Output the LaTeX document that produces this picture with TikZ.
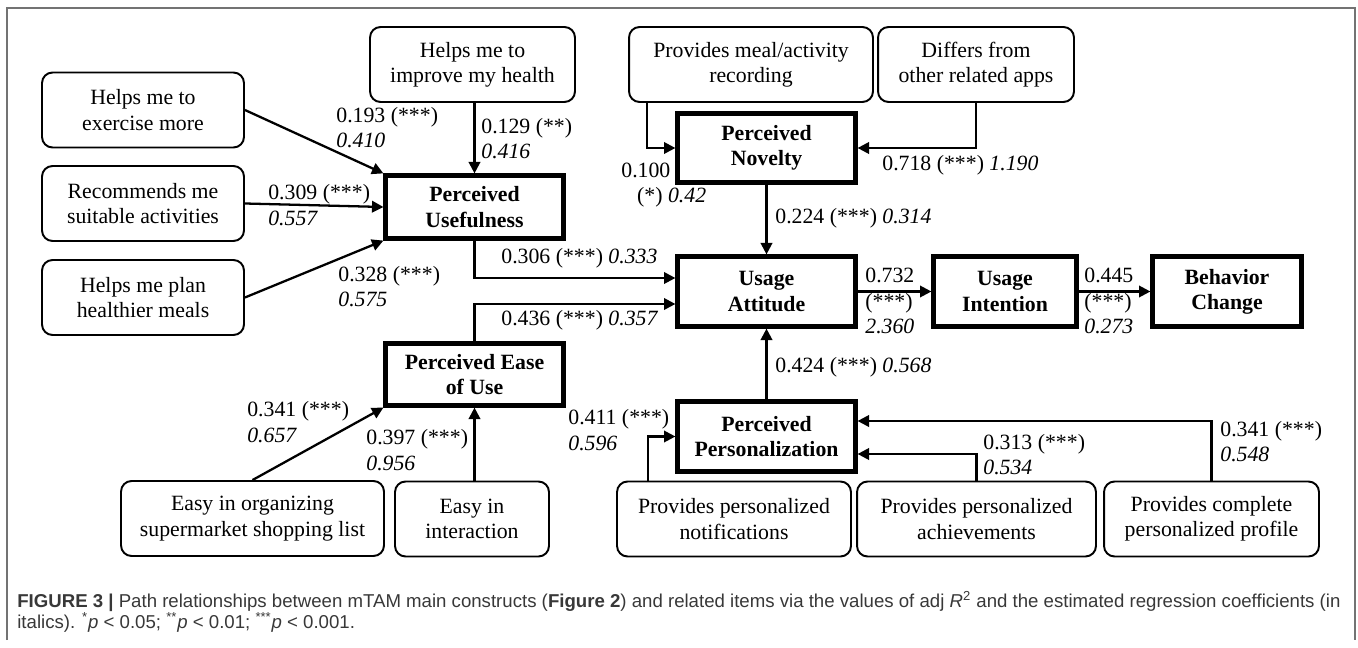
\documentclass[tikz,border=0pt]{standalone}
\usepackage{fontspec}
\setmainfont{Liberation Serif}
\newfontfamily\capfont{Liberation Sans}
\usetikzlibrary{arrows.meta}
\definecolor{framegray}{gray}{0.45}
\definecolor{capgray}{gray}{0.22}

\begin{document}
\begin{tikzpicture}[x=0.02cm, y=-0.02cm,
  item/.style={draw, line width=1.1pt, rounded corners=6pt, align=center, inner sep=2pt, minimum height=1.5cm, font=\fontsize{12.4}{14.4}\selectfont},
  construct/.style={draw, line width=2.4pt, align=center, inner sep=2pt, font=\fontsize{12.4}{14.4}\selectfont\bfseries},
  link/.style={draw, line width=1.3pt, -{Triangle[length=6.5pt,width=6.5pt]}},
  coef/.style={anchor=west, inner sep=0pt, align=left, font=\fontsize{12.4}{14.4}\selectfont}]
\useasboundingbox (0,0) rectangle (1358,648);
\draw[framegray, line width=1.2pt] (7,640) -- (7,8) -- (1355,8) -- (1355,640);

\node[item, minimum width=4.04cm] (exer) at (143,110) {Helps me to\\exercise more};
\node[item, minimum width=4.04cm] (recom) at (143,203.5) {Recommends me\\suitable activities};
\node[item, minimum width=4.04cm] (meals) at (143,297.5) {Helps me plan\\healthier meals};
\node[item, minimum width=4.1cm] (health) at (472.5,64.5) {Helps me to\\improve my health};
\node[construct, minimum width=3.56cm, minimum height=1.26cm] (pu) at (474.5,207) {Perceived\\Usefulness};
\node[item, minimum width=4.88cm] (record) at (751,64.5) {Provides meal/activity\\recording};
\node[item, minimum width=3.92cm] (differ) at (976,64.5) {Differs from\\other related apps};
\node[construct, minimum width=3.56cm, minimum height=1.38cm] (pn) at (766.5,148) {Perceived\\Novelty};
\node[construct, minimum width=3.56cm, minimum height=1.4cm] (ua) at (766.5,291.5) {Usage\\Attitude};
\node[construct, minimum width=2.86cm, minimum height=1.4cm] (ui) at (1005,291.5) {Usage\\Intention};
\node[construct, minimum width=2.98cm, minimum height=1.4cm] (bc) at (1227,291.5) {Behavior\\Change};
\node[construct, minimum width=3.56cm, minimum height=1.24cm] (peou) at (474.5,374.5) {Perceived Ease\\of Use};
\node[construct, minimum width=3.56cm, minimum height=1.4cm] (pp) at (766.5,436.5) {Perceived\\Personalization};
\node[item, minimum width=5.26cm] (shop) at (252.5,518.5) {Easy in organizing\\supermarket shopping list};
\node[item, minimum width=3.08cm] (inter) at (472,519) {Easy in\\interaction};
\node[item, minimum width=4.68cm] (notif) at (734,519) {Provides personalized\\notifications};
\node[item, minimum width=4.78cm] (achiev) at (976.5,519) {Provides personalized\\achievements};
\node[item, minimum width=4.3cm] (profile) at (1211.5,519) {Provides complete\\personalized profile};

\draw[link] (exer.east) -- (pu.north west);
\draw[link] (recom.east) -- (pu.west);
\draw[link] (meals.east) -- (pu.south west);
\draw[link] (pu.north |- health.south) -- (pu.north);
\draw[link] (pu.south) |- ([yshift=0.27cm]ua.west);
\draw[link] (peou.north) |- ([yshift=-0.25cm]ua.west);
\draw[link] (shop.north) -- (peou.south west);
\draw[link] (inter.north -| peou.south) -- (peou.south);
\draw[link] ([xshift=0.38cm]record.south west) |- (pn.west);
\draw[link] (differ.south) |- (pn.east);
\draw[link] (pn.south) -- (ua.north);
\draw[link] (ua.east) -- (ui.west);
\draw[link] (ui.east) -- (bc.west);
\draw[link] (pp.north) -- (ua.south);
\draw[link] ([xshift=0.64cm]notif.north west) |- (pp.west);
\draw[link] (achiev.north) |- ([yshift=-0.35cm]pp.east);
\draw[link] (profile.north) |- ([yshift=0.31cm]pp.east);

\node[coef] (c1) at (336,127.5) {0.193 (***)\\\textit{0.410}};
\node[coef] (c2) at (481,138.5) {0.129 (**)\\\textit{0.416}};
\node[coef] (c3) at (268,205) {0.309 (***)\\\textit{0.557}};
\node[coef] (c4) at (338,286.5) {0.328 (***)\\\textit{0.575}};
\node[coef] (c5) at (501,258) {0.306 (***) \textit{0.333}};
\node[coef] (c6) at (501,320) {0.436 (***) \textit{0.357}};
\node[coef] (c7) at (247,422) {0.341 (***)\\\textit{0.657}};
\node[coef] (c8) at (366,450) {0.397 (***)\\\textit{0.956}};
\node[coef] (c9) at (568,430) {0.411 (***)\\\textit{0.596}};
\node[coef] (c10) at (621,185) {0.100\\\hspace{9pt}(*) \textit{0.42}};
\node[coef] (c11) at (882,165) {0.718 (***) \textit{1.190}};
\node[coef] (c12) at (775,218) {0.224 (***) \textit{0.314}};
\node[coef] (c13) at (865,301) {0.732\\(***)\\\textit{2.360}};
\node[coef] (c14) at (1084,301) {0.445\\(***)\\\textit{0.273}};
\node[coef] (c15) at (775,367) {0.424 (***) \textit{0.568}};
\node[coef] (c16) at (983,454.5) {0.313 (***)\\\textit{0.534}};
\node[coef] (c17) at (1220,441.5) {0.341 (***)\\\textit{0.548}};

\node[anchor=west, inner sep=0pt, align=left, text=capgray, font=\capfont\fontsize{10.6}{11.6}\selectfont] (caption) at (17,612) {{\bfseries FIGURE 3 |} Path relationships between mTAM main constructs ({\bfseries Figure 2}) and related items via the values of adj \textit{R}\textsuperscript{2} and the estimated regression coefficients (in\\italics). \textsuperscript{*}\textit{p} < 0.05; \textsuperscript{**}\textit{p} < 0.01; \textsuperscript{***}\textit{p} < 0.001.};
\end{tikzpicture}
\end{document}
